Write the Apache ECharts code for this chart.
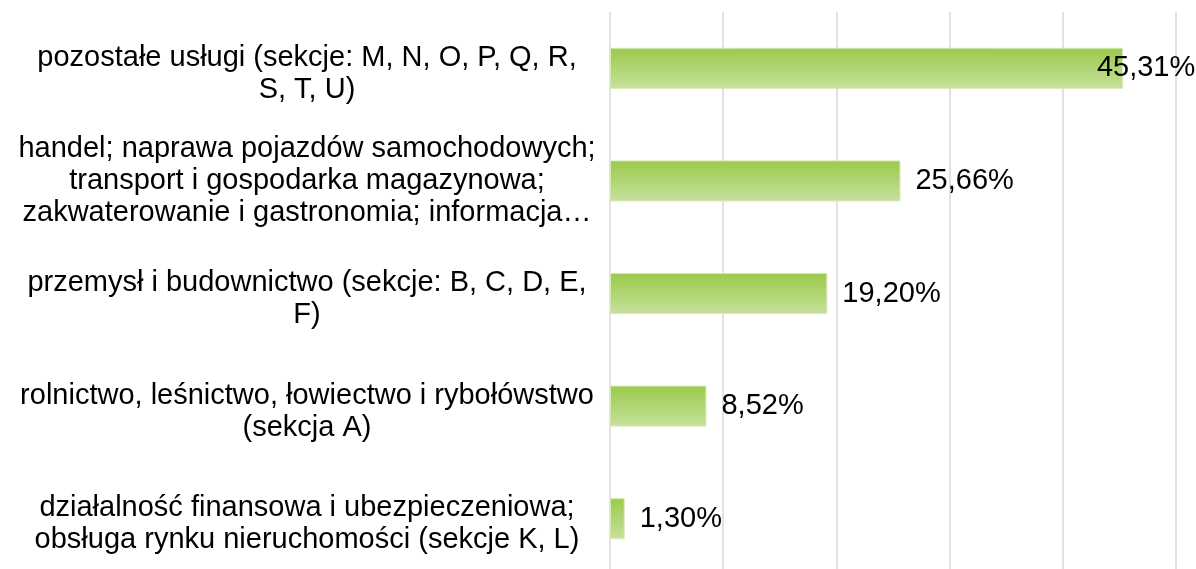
<!DOCTYPE html>
<html>
<head>
<meta charset="utf-8">
<script src="https://cdn.jsdelivr.net/npm/echarts@6/dist/echarts.min.js"></script>
<style>
html,body{margin:0;padding:0;background:#fff;}
#chart{width:1196px;height:569px;}
</style>
</head>
<body>
<div id="chart"></div>
<script>
const categories = [
  "pozostałe usługi (sekcje: M, N, O, P, Q, R,\nS, T, U)",
  "handel; naprawa pojazdów samochodowych;\ntransport i gospodarka magazynowa;\nzakwaterowanie i gastronomia; informacja…",
  "przemysł i budownictwo (sekcje: B, C, D, E,\nF)",
  "rolnictwo, leśnictwo, łowiectwo i rybołówstwo\n(sekcja A)",
  "działalność finansowa i ubezpieczeniowa;\nobsługa rynku nieruchomości (sekcje K, L)"
];
const values = [45.31, 25.66, 19.20, 8.52, 1.30];
const xTicks = [0, 10, 20, 30, 40, 50];

const chart = echarts.init(document.getElementById('chart'), null, {renderer: 'canvas'});
const fontFamily = '"Liberation Sans", Arial, sans-serif';
const barColor = new echarts.graphic.LinearGradient(0, 0, 0, 1, [
  {offset: 0, color: '#9bc94b'},
  {offset: 1, color: '#c6e19c'}
]);
chart.setOption({
  animation: false,
  backgroundColor: '#ffffff',
  grid: {left: 610, right: 20, top: 12, bottom: -6, containLabel: false, outerBoundsMode: 'none'},
  xAxis: {
    type: 'value',
    min: xTicks[0],
    max: xTicks[xTicks.length - 1],
    interval: 10,
    axisLabel: {show: false},
    axisLine: {show: false},
    axisTick: {show: false},
    splitLine: {show: true, lineStyle: {color: '#d9d9d9', width: 1.5}}
  },
  yAxis: {
    type: 'category',
    inverse: true,
    data: categories,
    axisLine: {show: false},
    axisTick: {show: false},
    axisLabel: {
      margin: 303,
      align: 'center',
      formatter: function (c) {
        const lines = c.split('\n');
        const body = lines.map(l => '{n|' + l + '}').join('\n');
        return lines.length === 2 ? '{s| }\n' + body : body;
      },
      rich: {
        n: {fontSize: 29, lineHeight: 32, color: '#000000', fontFamily: fontFamily, align: 'center'},
        s: {fontSize: 1, lineHeight: 11}
      }
    }
  },
  series: [{
    type: 'bar',
    barWidth: 41,
    data: values.map((v, i) => i === 0
      ? {value: v, label: {distance: -26}}
      : v),
    itemStyle: {color: barColor, borderColor: '#d6eab5', borderWidth: 1},
    label: {
      show: true,
      position: 'right',
      distance: 15,
      fontSize: 29,
      color: '#000000',
      fontFamily: fontFamily,
      formatter: p => p.value.toFixed(2).replace('.', ',') + '%'
    }
  }]
});
</script>
</body>
</html>
